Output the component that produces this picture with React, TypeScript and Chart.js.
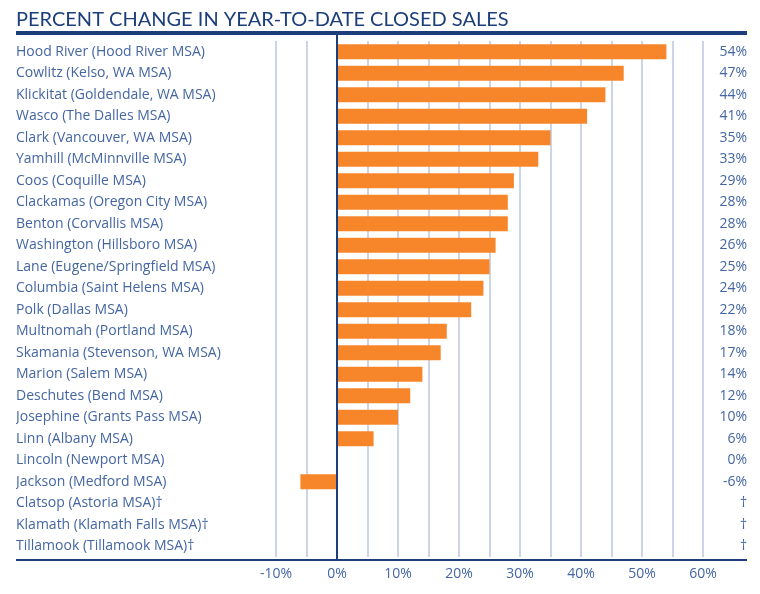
import React, { useEffect, useRef } from "react";
import { Chart, registerables } from "chart.js";

Chart.register(...registerables);

const titleText = "PERCENT CHANGE IN YEAR-TO-DATE CLOSED SALES";

const categories = [
  "Hood River (Hood River MSA)",
  "Cowlitz (Kelso, WA MSA)",
  "Klickitat (Goldendale, WA MSA)",
  "Wasco (The Dalles MSA)",
  "Clark (Vancouver, WA MSA)",
  "Yamhill (McMinnville MSA)",
  "Coos (Coquille MSA)",
  "Clackamas (Oregon City MSA)",
  "Benton (Corvallis MSA)",
  "Washington (Hillsboro MSA)",
  "Lane (Eugene/Springfield MSA)",
  "Columbia (Saint Helens MSA)",
  "Polk (Dallas MSA)",
  "Multnomah (Portland MSA)",
  "Skamania (Stevenson, WA MSA)",
  "Marion (Salem MSA)",
  "Deschutes (Bend MSA)",
  "Josephine (Grants Pass MSA)",
  "Linn (Albany MSA)",
  "Lincoln (Newport MSA)",
  "Jackson (Medford MSA)",
  "Clatsop (Astoria MSA)†",
  "Klamath (Klamath Falls MSA)†",
  "Tillamook (Tillamook MSA)†",
];

const values: (number | null)[] = [
  54, 47, 44, 41, 35, 33, 29, 28, 28, 26, 25, 24, 22, 18, 17, 14, 12, 10, 6, 0, -6,
  null, null, null,
];

const valueLabels = [
  "54%", "47%", "44%", "41%", "35%", "33%", "29%", "28%", "28%", "26%", "25%", "24%",
  "22%", "18%", "17%", "14%", "12%", "10%", "6%", "0%", "-6%", "†", "†", "†",
];

const xMin = -15;
const xMax = 60;
const xStep = 5;

const DARK = "#1c3f7c";
const TEXT = "#4466a3";
const GRID = "#cbd5e7";
const BAR = "#f7862b";
const FONT = "'Open Sans', Lato, sans-serif";
const TITLE_FONT = "Lato, 'Open Sans', sans-serif";

const decorPlugin = {
  id: "decor",
  afterDraw(chart: any) {
    const { ctx, scales } = chart;
    const x0 = scales.x.getPixelForValue(0);
    ctx.save();
    ctx.fillStyle = DARK;
    ctx.font = `20px ${TITLE_FONT}`;
    ctx.textBaseline = "alphabetic";
    ctx.textAlign = "left";
    ctx.fillText(titleText, 16, 26);
    ctx.fillRect(16, 31, 731, 4);
    ctx.fillRect(x0 - 1, 35, 2, 561 - 35);
    ctx.fillRect(16, 559, 731, 2);
    ctx.restore();
  },
};

export default function App() {
  const ref = useRef<HTMLCanvasElement | null>(null);
  useEffect(() => {
    if (!ref.current) return;
    const chart = new Chart(ref.current, {
      type: "bar",
      data: {
        labels: categories,
        datasets: [
          {
            data: values as any,
            backgroundColor: BAR,
            borderWidth: 0,
            barPercentage: 0.7,
            categoryPercentage: 1,
            yAxisID: "y",
          },
        ],
      },
      options: {
        indexAxis: "y",
        responsive: false,
        animation: false,
        layout: { padding: { left: 16, right: 13, top: 41, bottom: 0 } },
        plugins: {
          legend: { display: false },
          tooltip: { enabled: false },
          title: { display: false },
        },
        scales: {
          x: {
            type: "linear",
            min: xMin,
            max: xMax,
            afterFit: (s: any) => {
              s.height = 37;
            },
            afterBuildTicks: (s: any) => {
              const t = [];
              for (let v = xMin; v <= xMax; v += xStep) t.push({ value: v });
              s.ticks = t;
            },
            ticks: {
              autoSkip: false,
              maxRotation: 0,
              padding: 9,
              color: TEXT,
              font: { family: FONT, size: 14 },
              callback: (v: any) => (Number(v) % 10 === 0 ? `${v}%` : ""),
            },
            grid: {
              drawTicks: false,
              lineWidth: 2,
              color: (c: any) =>
                c.tick && (c.tick.value === 0 || c.tick.value === xMin) ? "rgba(0,0,0,0)" : GRID,
            },
            border: { display: false },
          },
          y: {
            type: "category",
            position: "left",
            afterFit: (s: any) => {
              s.width = 229.5;
            },
            ticks: {
              crossAlign: "far",
              color: TEXT,
              font: { family: FONT, size: 14 },
              autoSkip: false,
            },
            grid: { display: false },
            border: { display: false },
          },
          y2: {
            type: "category",
            position: "right",
            labels: valueLabels,
            afterFit: (s: any) => {
              s.width = 44;
            },
            ticks: {
              crossAlign: "far",
              color: TEXT,
              font: { family: FONT, size: 14 },
              autoSkip: false,
            },
            grid: { display: false },
            border: { display: false },
          },
        },
      },
      plugins: [decorPlugin],
    } as any);
    return () => chart.destroy();
  }, []);
  return (
    <div style={{ position: "fixed", left: 0, top: 0, width: 760, height: 594, background: "#fff" }}>
      <canvas ref={ref} width={760} height={594} />
    </div>
  );
}
